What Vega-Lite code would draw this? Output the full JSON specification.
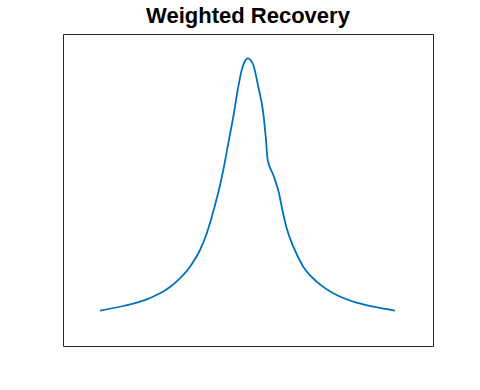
{
  "$schema": "https://vega.github.io/schema/vega-lite/v6.json",
  "width": 370,
  "height": 312,
  "autosize": {"type": "none"},
  "padding": {"left": 63, "top": 34, "right": 47, "bottom": 44},
  "title": {"text": "Weighted Recovery", "font": "Liberation Sans", "fontSize": 22, "fontWeight": "bold", "color": "#000000", "offset": 6},
  "config": {"view": {"stroke": "#262626", "strokeWidth": 1}, "background": "white"},
  "data": {"values": [
    {"x": 37, "y": 35.3},
    {"x": 60.3, "y": 40},
    {"x": 83.7, "y": 46.6},
    {"x": 92, "y": 50.3},
    {"x": 100.3, "y": 54.6},
    {"x": 107, "y": 59},
    {"x": 113.7, "y": 64.6},
    {"x": 127, "y": 79.3},
    {"x": 137, "y": 96},
    {"x": 143, "y": 110.5},
    {"x": 148, "y": 126.5},
    {"x": 152, "y": 141},
    {"x": 155.3, "y": 153.5},
    {"x": 160.3, "y": 176},
    {"x": 165.3, "y": 202.7},
    {"x": 170.3, "y": 229.3},
    {"x": 175.3, "y": 259.3},
    {"x": 178.7, "y": 276},
    {"x": 181.5, "y": 284},
    {"x": 184.7, "y": 287.7},
    {"x": 187.5, "y": 286},
    {"x": 190.3, "y": 281},
    {"x": 195.3, "y": 259.3},
    {"x": 200.3, "y": 232.7},
    {"x": 202.7, "y": 209.3},
    {"x": 204.7, "y": 186},
    {"x": 210.3, "y": 171},
    {"x": 216, "y": 152.7},
    {"x": 218.7, "y": 139.3},
    {"x": 223.7, "y": 117.7},
    {"x": 230.3, "y": 99.3},
    {"x": 240.3, "y": 79.3},
    {"x": 253.7, "y": 64.3},
    {"x": 270.3, "y": 52.7},
    {"x": 290.3, "y": 44.3},
    {"x": 310.3, "y": 39.3},
    {"x": 332, "y": 35.3}
  ]},
  "mark": {"type": "line", "color": "#0072BD", "strokeWidth": 1.8, "interpolate": "monotone"},
  "encoding": {
    "x": {"field": "x", "type": "quantitative", "scale": {"domain": [0, 370]}, "axis": null},
    "y": {"field": "y", "type": "quantitative", "scale": {"domain": [0, 312]}, "axis": null}
  }
}
